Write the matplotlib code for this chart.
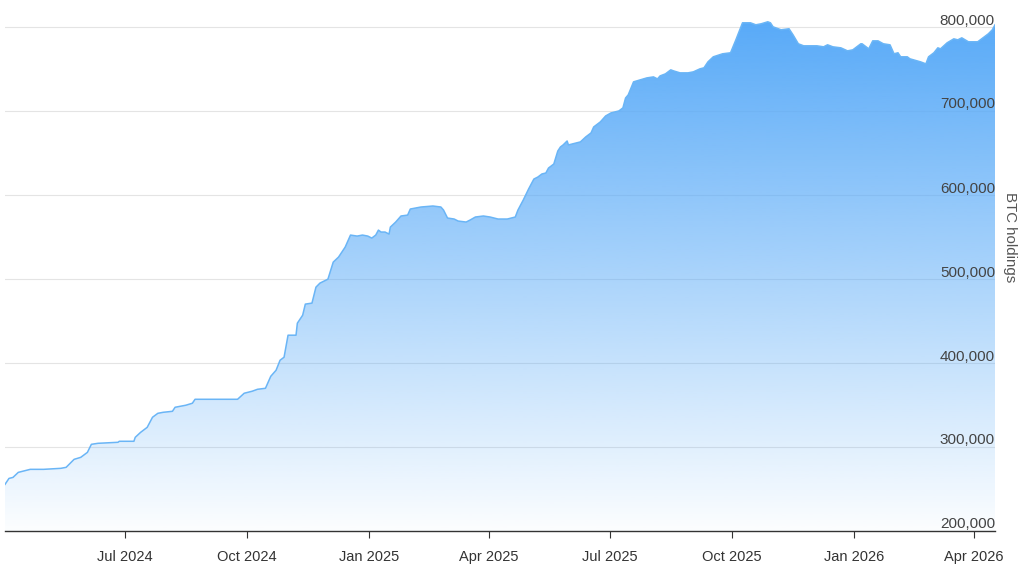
import numpy as np
import pandas as pd
import matplotlib.pyplot as plt
import matplotlib.dates as mdates
from matplotlib import transforms

plt.rcParams['font.family'] = ['Liberation Sans', 'DejaVu Sans']

# BTC holdings over time
dates = [
    '2024-04-02', '2024-04-05', '2024-04-08', '2024-04-12', '2024-04-21', '2024-05-01',
    '2024-05-14', '2024-05-18', '2024-05-24', '2024-05-29', '2024-06-03', '2024-06-06',
    '2024-06-11', '2024-06-26', '2024-06-27', '2024-07-08', '2024-07-09', '2024-07-13',
    '2024-07-18', '2024-07-22', '2024-07-26', '2024-07-30', '2024-08-06', '2024-08-08',
    '2024-08-16', '2024-08-21', '2024-08-23', '2024-09-24', '2024-09-29', '2024-10-05',
    '2024-10-09', '2024-10-15', '2024-10-19', '2024-10-23', '2024-10-26', '2024-10-29',
    '2024-11-01', '2024-11-07', '2024-11-08', '2024-11-12', '2024-11-14', '2024-11-19',
    '2024-11-22', '2024-11-25', '2024-12-01', '2024-12-05', '2024-12-09', '2024-12-14',
    '2024-12-18', '2024-12-23', '2024-12-27', '2024-12-31', '2025-01-03', '2025-01-06',
    '2025-01-08', '2025-01-10', '2025-01-13', '2025-01-16', '2025-01-17', '2025-01-21',
    '2025-01-25', '2025-01-30', '2025-02-01', '2025-02-09', '2025-02-18', '2025-02-24',
    '2025-02-26', '2025-03-01', '2025-03-06', '2025-03-09', '2025-03-15', '2025-03-18',
    '2025-03-22', '2025-03-28', '2025-04-02', '2025-04-08', '2025-04-15', '2025-04-21',
    '2025-04-23', '2025-04-27', '2025-05-01', '2025-05-05', '2025-05-08', '2025-05-11',
    '2025-05-14', '2025-05-16', '2025-05-20', '2025-05-23', '2025-05-25', '2025-05-27',
    '2025-05-30', '2025-05-31', '2025-06-03', '2025-06-06', '2025-06-09', '2025-06-13',
    '2025-06-17', '2025-06-19', '2025-06-24', '2025-06-28', '2025-07-02', '2025-07-08',
    '2025-07-11', '2025-07-13', '2025-07-15', '2025-07-19', '2025-07-24', '2025-07-29',
    '2025-08-03', '2025-08-06', '2025-08-08', '2025-08-12', '2025-08-16', '2025-08-18',
    '2025-08-23', '2025-08-29', '2025-09-02', '2025-09-07', '2025-09-10', '2025-09-13',
    '2025-09-17', '2025-09-24', '2025-09-30', '2025-10-04', '2025-10-09', '2025-10-15',
    '2025-10-19', '2025-10-23', '2025-10-28', '2025-10-30', '2025-11-01', '2025-11-07',
    '2025-11-13', '2025-11-16', '2025-11-20', '2025-11-24', '2025-12-04', '2025-12-09',
    '2025-12-12', '2025-12-16', '2025-12-22', '2025-12-27', '2025-12-31', '2026-01-06',
    '2026-01-07', '2026-01-12', '2026-01-15', '2026-01-19', '2026-01-23', '2026-01-28',
    '2026-01-31', '2026-02-03', '2026-02-05', '2026-02-10', '2026-02-12', '2026-02-20',
    '2026-02-24', '2026-02-26', '2026-03-02', '2026-03-05', '2026-03-07', '2026-03-12',
    '2026-03-17', '2026-03-20', '2026-03-23', '2026-03-28', '2026-04-04', '2026-04-08',
    '2026-04-12', '2026-04-15', '2026-04-17',
]
holdings = [
    255500, 262600, 263800, 269800, 273400, 273400,
    274600, 275800, 285300, 287700, 293600, 303200,
    304400, 305600, 306800, 306800, 311500, 317400,
    323400, 335400, 340100, 341300, 342500, 347300,
    349700, 352100, 356800, 356800, 364000, 366400,
    368700, 369900, 384200, 391400, 403300, 406900,
    433100, 433100, 447400, 456900, 470100, 471300,
    490300, 495100, 499800, 520100, 526100, 538000,
    552300, 551100, 552300, 551100, 548700, 552300,
    558200, 555900, 555900, 553500, 561800, 567800,
    575000, 576100, 583300, 585700, 586900, 585700,
    582100, 572600, 571400, 569000, 567800, 570200,
    573800, 575000, 573800, 571400, 571400, 573800,
    582100, 594000, 607100, 619000, 621400, 625000,
    626200, 632100, 636900, 652400, 657200, 659600,
    664300, 659600, 660800, 662000, 663200, 669100,
    673900, 681000, 687000, 694100, 697700, 700100,
    703700, 715500, 719200, 734700, 737100, 739400,
    740600, 738200, 741800, 744200, 749000, 747800,
    745400, 745400, 746600, 750200, 751400, 758500,
    764500, 768100, 769300, 784700, 805000, 805000,
    802600, 803800, 806200, 805000, 800200, 796700,
    797900, 790700, 780000, 777600, 777600, 776400,
    778800, 776400, 775200, 771600, 772800, 780000,
    780000, 774000, 783500, 783500, 780000, 778800,
    768100, 769300, 764500, 764500, 762100, 758500,
    756100, 764500, 769300, 775200, 774000, 781200,
    785900, 784700, 787100, 782400, 782400, 787100,
    791900, 796700, 802600,
]

tick_dates = ['2024-07-01', '2024-10-01', '2025-01-01', '2025-04-01',
              '2025-07-01', '2025-10-01', '2026-01-01', '2026-04-01']
tick_labels = ['Jul 2024', 'Oct 2024', 'Jan 2025', 'Apr 2025',
               'Jul 2025', 'Oct 2025', 'Jan 2026', 'Apr 2026']
y_ticks = [200000, 300000, 400000, 500000, 600000, 700000, 800000]
y_labels = ['200,000', '300,000', '400,000', '500,000', '600,000', '700,000', '800,000']

x = mdates.date2num(pd.to_datetime(dates))
y = np.array(holdings)

fig = plt.figure(figsize=(10.24, 5.66), dpi=100)
ax = fig.add_axes([5 / 1024, 35 / 566, 990 / 1024, 525 / 566])

ymin, ymax = 200000, 825000

# gridlines under the (semi-transparent) fill
for v in y_ticks[1:]:
    ax.axhline(v, color='#e4e4e4', lw=0.8, zorder=0)

# gradient fill under the line: blue fading to transparent
fill = ax.fill_between(x, y, ymin, facecolor='none', edgecolor='none')
top_rgb = np.array([88, 170, 248]) / 255
a = np.linspace(0.02, 1, 256)
grad = np.zeros((256, 1, 4))
grad[:, 0, :3] = top_rgb
grad[:, 0, 3] = a
im = ax.imshow(grad, extent=[x[0], x[-1], ymin, y.max()], origin='lower',
               aspect='auto', zorder=1, interpolation='bilinear')
im.set_clip_path(fill.get_paths()[0], transform=ax.transData)

ax.plot(x, y, color='#6ab5f6', lw=1.1, zorder=2)

ax.set_xlim(x[0], x[-1])
ax.set_ylim(ymin, ymax)

for s in ['top', 'left', 'right']:
    ax.spines[s].set_visible(False)
ax.spines['bottom'].set_color('#333333')
ax.spines['bottom'].set_linewidth(1)
ax.spines['bottom'].set_zorder(4)

ax.set_xticks(mdates.date2num(pd.to_datetime(tick_dates)))
ax.set_xticklabels(tick_labels)
ax.tick_params(axis='x', length=5, width=0.8, color='#333333',
               labelsize=10.5, labelcolor='#333333', pad=9)
ax.set_yticks([])

# y labels inside the plot, right-aligned just above each gridline
off = transforms.offset_copy(ax.get_yaxis_transform(), fig=fig, x=0, y=2.5, units='dots')
for v, lbl in zip(y_ticks, y_labels):
    ax.text(1.0, v, lbl, transform=off, ha='right', va='baseline',
            fontsize=11, color='#444444', zorder=5)

fig.text(1010 / 1024, 1 - 237 / 566, 'BTC holdings', rotation=270,
         ha='center', va='center', fontsize=10.8, color='#555555')

fig.savefig('out.png', dpi=100)
